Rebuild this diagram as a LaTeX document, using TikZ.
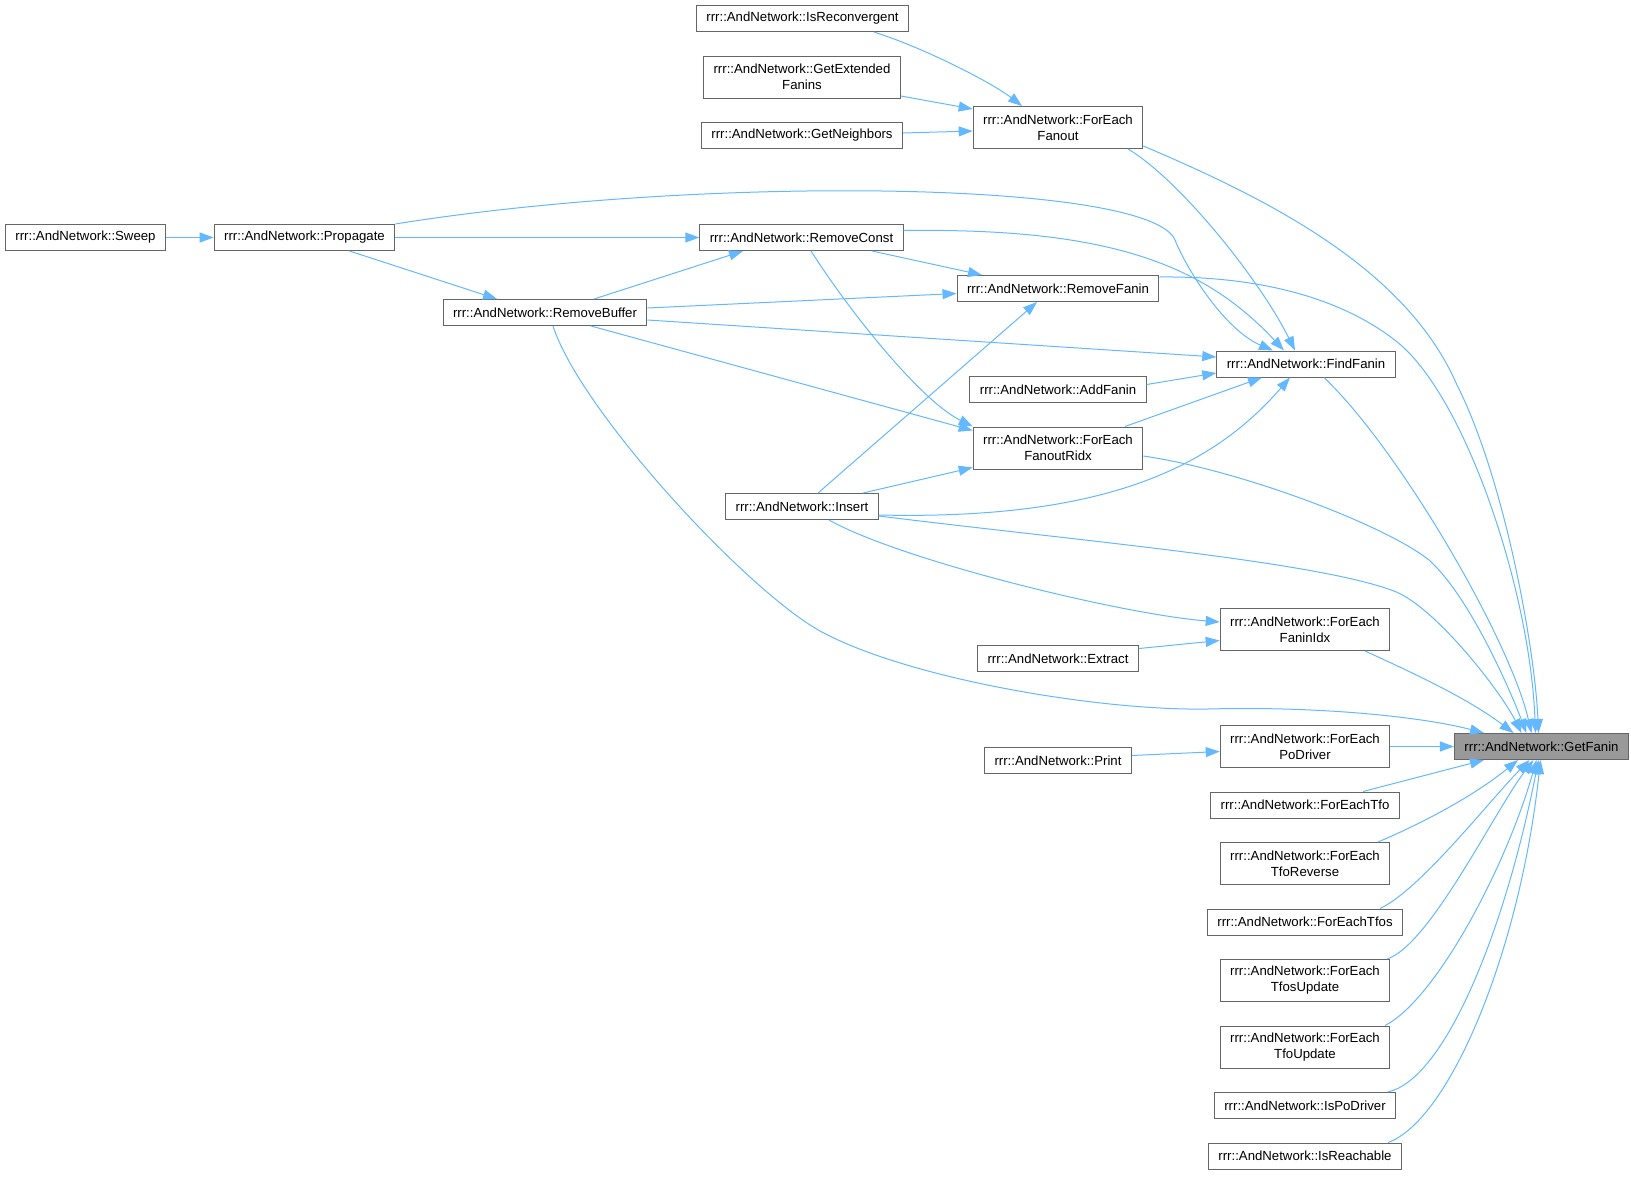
\documentclass[tikz,border=0pt]{standalone}
\usepackage{fontspec}
\setmainfont{Liberation Sans}
\usetikzlibrary{arrows.meta, positioning}

\definecolor{edgeblue}{HTML}{63B8FF}
\definecolor{boxgray}{HTML}{666666}
\definecolor{curgray}{HTML}{999999}

\begin{document}
\begin{tikzpicture}[
    x=1pt, y=1pt,
    node distance=23.5pt,
    fn/.style={draw=boxgray, line width=1pt, fill=white, inner xsep=10pt, inner ysep=2pt, minimum height=26pt, align=center, font=\fontsize{13.2}{16}\selectfont},
    fntwo/.style={fn, minimum height=42pt},
    current/.style={fn, fill=curgray},
    call/.style={-{Triangle[length=14pt, width=10pt]}, draw=edgeblue, line width=1pt}
]
\useasboundingbox (0,0) rectangle (1631,-1176);

% Callers of ForEachFanout
\node[fn] (isrec) at (802.5,-18.5) {rrr::AndNetwork::IsReconvergent};
\node[fntwo] (getext) at (802,-77) {rrr::AndNetwork::GetExtended\\Fanins};
\node[fn] (getnb) at (802,-135.5) {rrr::AndNetwork::GetNeighbors};
\node[fntwo] (fefanout) at (1058,-127.5) {rrr::AndNetwork::ForEach\\Fanout};

% Sweep chain
\node[fn] (sweep) at (85.5,-237.5) {rrr::AndNetwork::Sweep};
\node[fn] (propagate) at (304.5,-237.5) {rrr::AndNetwork::Propagate};
\node[fn] (rmconst) at (801.5,-237.5) {rrr::AndNetwork::RemoveConst};
\node[fn] (rmbuffer) at (545,-312.5) {rrr::AndNetwork::RemoveBuffer};
\node[fn] (rmfanin) at (1058,-288.5) {rrr::AndNetwork::RemoveFanin};
\node[fn] (findfanin) at (1306,-364) {rrr::AndNetwork::FindFanin};
\node[fn] (addfanin) at (1058,-389.5) {rrr::AndNetwork::AddFanin};
\node[fntwo] (feridx) at (1058,-448) {rrr::AndNetwork::ForEach\\FanoutRidx};
\node[fn] (insert) at (802,-506.5) {rrr::AndNetwork::Insert};
\node[fntwo] (feidx) at (1305,-629.5) {rrr::AndNetwork::ForEach\\FaninIdx};
\node[fn] (extract) at (1058,-658.5) {rrr::AndNetwork::Extract};

% The function itself
\node[current] (getfanin) at (1541.5,-746.5) {rrr::AndNetwork::GetFanin};

% Lower column
\node[fntwo] (fepo) at (1305,-746.5) {rrr::AndNetwork::ForEach\\PoDriver};
\node[fn] (print) at (1058,-760.5) {rrr::AndNetwork::Print};
\node[fn, below=of fepo] (fetfo) {rrr::AndNetwork::ForEachTfo};
\node[fntwo, below=of fetfo] (fetforev) {rrr::AndNetwork::ForEach\\TfoReverse};
\node[fn, below=of fetforev] (fetfos) {rrr::AndNetwork::ForEachTfos};
\node[fntwo, below=of fetfos] (fetfosupd) {rrr::AndNetwork::ForEach\\TfosUpdate};
\node[fntwo, below=of fetfosupd] (fetfoupd) {rrr::AndNetwork::ForEach\\TfoUpdate};
\node[fn, below=of fetfoupd] (ispodrv) {rrr::AndNetwork::IsPoDriver};
\node[fn, below=of ispodrv] (isreach) {rrr::AndNetwork::IsReachable};

% Calls, upper part
\draw[call] ([xshift=71.5pt]isrec.south) .. controls (930,-50) and (995,-85) .. ([xshift=-36pt]fefanout.north);
\draw[call] ([yshift=-19pt]getext.east) -- ([yshift=18.5pt]fefanout.west);
\draw[call] ([yshift=2.5pt]getnb.east) -- ([yshift=-3.5pt]fefanout.west);
\draw[call] (sweep) -- (propagate);
\draw[call] (propagate) -- (rmconst);
\draw[call] ([xshift=45pt]propagate.south) -- ([xshift=-48pt]rmbuffer.north);
\draw[call] (propagate.north east) .. controls (700,-175) and (1150,-180) .. (1175,-240) .. controls (1187,-270) and (1225,-330) .. ([xshift=-33pt]findfanin.north);
\draw[call] ([xshift=49pt]rmbuffer.north) -- ([xshift=-58.5pt]rmconst.south);
\draw[call] ([xshift=70.5pt]rmconst.south) -- ([xshift=-76pt]rmfanin.north);
\draw[call] ([yshift=7pt]rmconst.east) .. controls (1100,-228) and (1200,-260) .. ([xshift=-22pt]findfanin.north);
\draw[call] ([xshift=9.5pt]rmconst.south) .. controls (850,-312) and (920,-400) .. (feridx.north west);
\draw[call] ([xshift=70pt]fefanout.south) .. controls (1180,-180) and (1260,-280) .. ([xshift=-11pt]findfanin.north);
\draw[call] ([yshift=4.5pt]rmbuffer.east) -- ([yshift=-5pt]rmfanin.west);
\draw[call] ([yshift=-7.5pt]rmbuffer.east) -- ([yshift=7pt]findfanin.west);
\draw[call] ([xshift=46pt]rmbuffer.south) -- ([yshift=-4pt]feridx.north west);
\draw[call] ([yshift=5pt]addfanin.east) -- ([yshift=-9pt]findfanin.west);
\draw[call] ([xshift=67pt]feridx.north) -- ([xshift=-44pt]findfanin.south);
\draw[call] ([yshift=-8.5pt]insert.east) .. controls (1100,-520) and (1210,-470) .. ([xshift=-16pt]findfanin.south);
\draw[call] ([xshift=16pt]insert.north) -- ([xshift=-21pt]rmfanin.south);
\draw[call] ([xshift=61pt]insert.north) -- ([yshift=2pt]feridx.south west);
\draw[call] ([xshift=27pt]insert.south) .. controls (900,-560) and (1120,-614) .. ([yshift=7.5pt]feidx.west);
\draw[call] ([yshift=10pt]extract.east) -- ([yshift=-11pt]feidx.west);
\draw[call] ([yshift=5pt]print.east) -- ([yshift=-5pt]fepo.west);

% Calls into GetFanin
\draw[call] ([xshift=8pt]rmbuffer.south) .. controls (580,-410) and (745,-589) .. (820,-631) .. controls (908,-679) and (1100,-711) .. (1208,-709) .. controls (1320,-706) and (1423,-717) .. ([xshift=30pt]getfanin.north west);
\draw[call] ([yshift=-9.5pt]insert.east) .. controls (1080,-541) and (1314,-561) .. (1394,-591) .. controls (1434,-606) and (1500,-690) .. ([xshift=-20pt]getfanin.north);
\draw[call] ([yshift=-18.5pt]fefanout.east) .. controls (1273,-201) and (1407,-270) .. (1457,-385) .. controls (1505,-480) and (1535,-650) .. ([xshift=-3pt]getfanin.north);
\draw[call] ([yshift=-2pt]rmfanin.north east) .. controls (1250,-276) and (1336,-294) .. (1396,-341) .. controls (1465,-395) and (1530,-590) .. ([xshift=-6pt]getfanin.north);
\draw[call] ([xshift=18pt]findfanin.south) .. controls (1400,-450) and (1510,-640) .. ([xshift=-10pt]getfanin.north);
\draw[call] ([yshift=-8pt]feridx.east) .. controls (1240,-470) and (1385,-525) .. (1429,-560) .. controls (1470,-597) and (1510,-690) .. ([xshift=-15pt]getfanin.north);
\draw[call] ([xshift=60pt]feidx.south) .. controls (1420,-676) and (1470,-700) .. ([xshift=-28pt]getfanin.north);
\draw[call] (fepo) -- (getfanin);
\draw[call] ([xshift=58pt]fetfo.north) -- ([xshift=30pt]getfanin.south west);
\draw[call] ([xshift=73pt]fetforev.north) .. controls (1425,-822) and (1475,-795) .. ([xshift=-23.5pt]getfanin.south);
\draw[call] ([xshift=75pt]fetfos.north) .. controls (1420,-890) and (1490,-800) .. ([xshift=-12pt]getfanin.south);
\draw[call] ([xshift=82pt]fetfosupd.north) .. controls (1430,-945) and (1495,-810) .. ([xshift=-8pt]getfanin.south);
\draw[call] ([xshift=80pt]fetfoupd.north) .. controls (1435,-1000) and (1505,-870) .. ([xshift=-5pt]getfanin.south);
\draw[call] ([xshift=82.5pt]ispodrv.north) .. controls (1445,-1080) and (1505,-930) .. ([xshift=-3pt]getfanin.south);
\draw[call] ([xshift=83pt]isreach.north) .. controls (1450,-1120) and (1520,-950) .. ([xshift=-1pt]getfanin.south);

\end{tikzpicture}
\end{document}
